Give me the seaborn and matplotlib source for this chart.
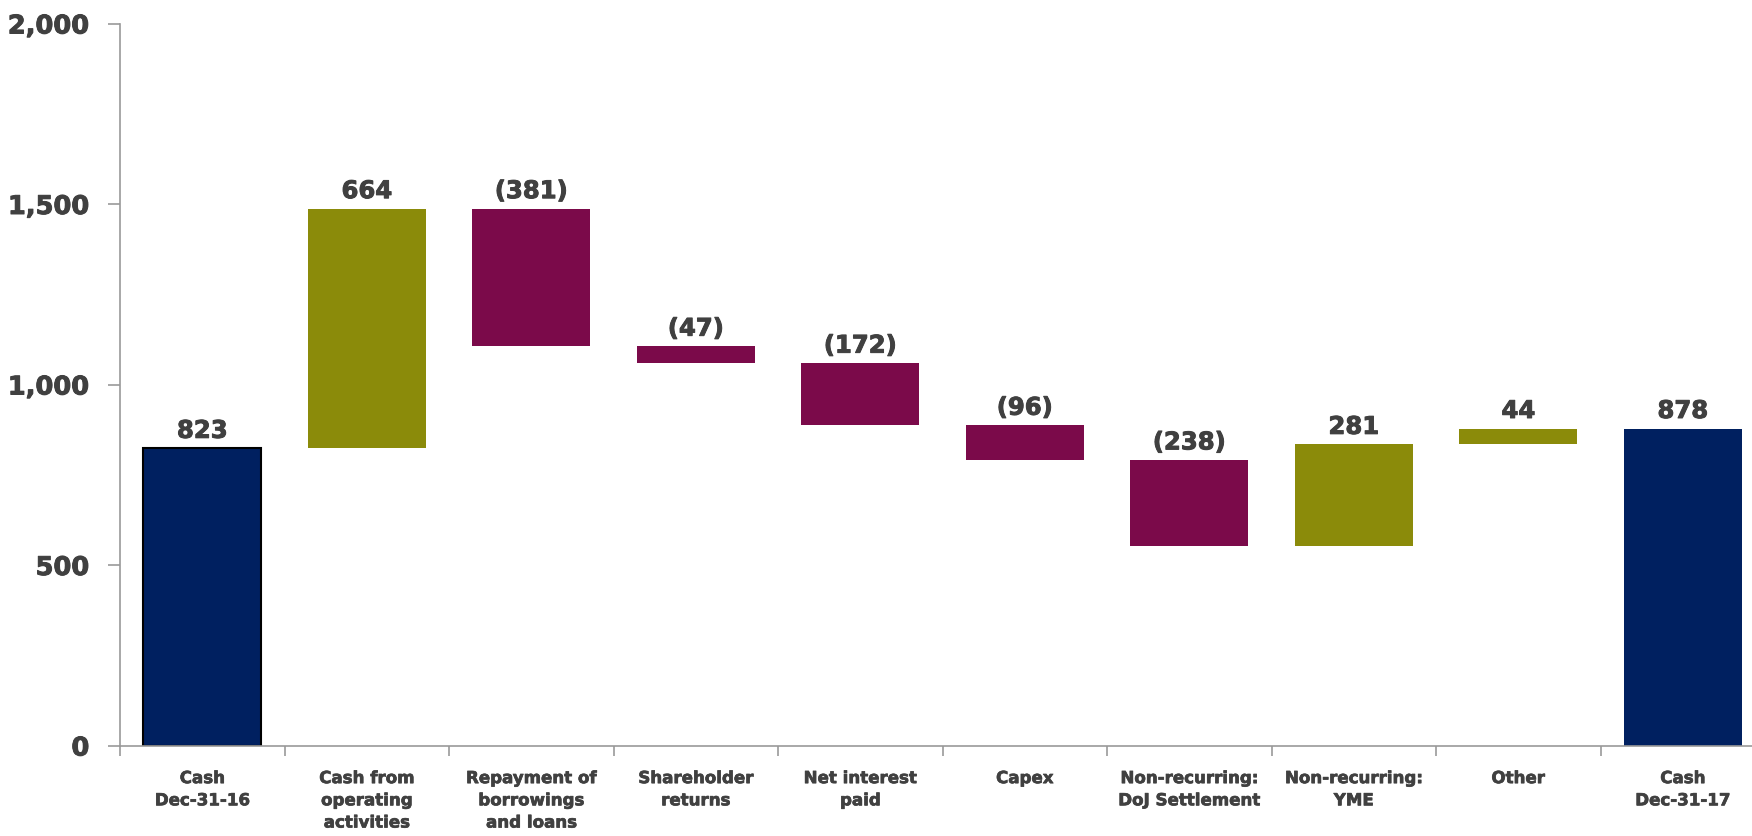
import matplotlib
matplotlib.use("Agg")
import matplotlib.pyplot as plt
import matplotlib.patheffects as pe
import seaborn as sns
import numpy as np

# Cash bridge, Dec-31-16 to Dec-31-17
categories = [
    "Cash\nDec-31-16",
    "Cash from\noperating\nactivities",
    "Repayment of\nborrowings\nand loans",
    "Shareholder\nreturns",
    "Net interest\npaid",
    "Capex",
    "Non-recurring:\nDoJ Settlement",
    "Non-recurring:\nYME",
    "Other",
    "Cash\nDec-31-17",
]
changes = [823, 664, -381, -47, -172, -96, -238, 281, 44, 878]
kinds = ["total", "flow", "flow", "flow", "flow", "flow", "flow", "flow", "flow", "total"]
value_labels = ["823", "664", "(381)", "(47)", "(172)", "(96)", "(238)", "281", "44", "878"]
y_ticks = [0, 500, 1000, 1500, 2000]

NAVY = "#002060"
OLIVE = "#8B8B0A"
MAROON = "#7B0A4A"
TEXT = "#404040"
AXIS = "#999999"

# floating bar geometry derived from the running total
bottoms, heights, tops = [], [], []
running = 0
for v, k in zip(changes, kinds):
    if k == "total":
        bottoms.append(0)
        heights.append(v)
        running = v
    else:
        new = running + v
        bottoms.append(min(running, new))
        heights.append(abs(v))
        running = new
    tops.append(bottoms[-1] + heights[-1])

colors = []
for v, k in zip(changes, kinds):
    if k == "total":
        colors.append(NAVY)
    elif v >= 0:
        colors.append(OLIVE)
    else:
        colors.append(MAROON)

sns.set_theme(style="white")
plt.rcParams["font.family"] = ["DejaVu Sans"]
plt.rcParams["font.weight"] = "bold"

heavy = [pe.withStroke(linewidth=0.7, foreground=TEXT)]

fig = plt.figure(figsize=(17.52, 8.37), dpi=100)
ax = fig.add_axes([120 / 1752, 90.5 / 837, 1645 / 1752, 722 / 837])

sns.barplot(x=categories, y=heights, bottom=bottoms, color=NAVY,
            width=0.72, linewidth=0, ax=ax)

for i, patch in enumerate(ax.patches):
    patch.set_facecolor(colors[i])
    patch.set_edgecolor("none")
ax.patches[0].set_edgecolor("black")
ax.patches[0].set_linewidth(1.5)

for i, (t, lab) in enumerate(zip(tops, value_labels)):
    ax.annotate(lab, (i, t), xytext=(0, 4), textcoords="offset points",
                ha="center", va="bottom", fontsize=17.5, fontweight="bold",
                color=TEXT, path_effects=heavy)

ax.set_xlim(-0.5, len(categories) - 0.5)
ax.set_ylim(0, 2000)
ax.set_yticks(y_ticks)
ax.set_yticklabels([f"{t:,}" for t in y_ticks])

# category labels centered, tick marks between categories
ax.set_xticks(range(len(categories)))
ax.set_xticks(np.arange(-0.5, len(categories), 1.0), minor=True)
ax.tick_params(axis="x", which="major", length=0, pad=17, labelsize=12,
               labelcolor=TEXT)
ax.tick_params(axis="x", which="minor", length=7, width=1.2, color=AXIS,
               direction="out", bottom=True)
ax.tick_params(axis="y", which="major", length=9, width=1.2, color=AXIS,
               direction="out", left=True, pad=13, labelsize=18.5,
               labelcolor=TEXT)
for lab in ax.get_xticklabels():
    lab.set_fontweight("bold")
    lab.set_linespacing(1.3)
    lab.set_path_effects([pe.withStroke(linewidth=0.5, foreground=TEXT)])
for lab in ax.get_yticklabels():
    lab.set_fontweight("bold")
    lab.set_path_effects(heavy)

for side in ["top", "right"]:
    ax.spines[side].set_visible(False)
for side in ["left", "bottom"]:
    ax.spines[side].set_color(AXIS)
    ax.spines[side].set_linewidth(1.2)

ax.set_xlabel("")
ax.set_ylabel("")

fig.savefig("out.png", dpi=100)
